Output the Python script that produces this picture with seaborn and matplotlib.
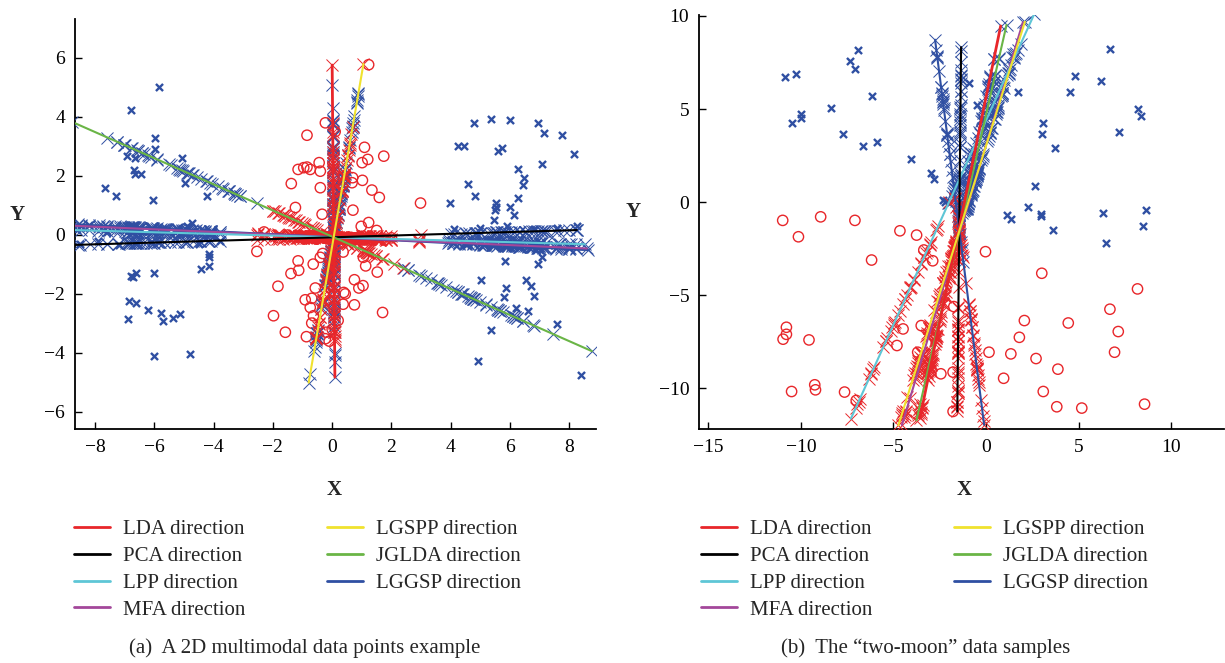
import numpy as np
import seaborn as sns
import matplotlib.pyplot as plt
from matplotlib.lines import Line2D

# ---- colours / methods ----
RED = "#e8262a"
BLUE = "#2f4fa2"
METHODS = ["LDA", "PCA", "LPP", "MFA", "LGSPP", "JGLDA", "LGGSP"]
COLORS = {"LDA": RED, "PCA": "#000000", "LPP": "#5ec6d6", "MFA": "#a3479a",
          "LGSPP": "#f0e22e", "JGLDA": "#6ab546", "LGGSP": BLUE}
DRAW_ORDER = ["LGGSP", "MFA", "LPP", "PCA", "JGLDA", "LDA", "LGSPP"]

# ---- (a) 2D multimodal data ----
a_blue_x = [-5.84, -6.79, -5.97, -5.99, -6.93, -6.65, -6.70, -6.65, -6.44, -5.07,
            -4.98, -7.66, -7.29, -6.06, -4.24, -4.73, -4.17, -4.14, -4.17, -4.43,
            -6.78, -6.62, -6.73, -6.00, -6.84, -6.62, -6.20, -6.88, -5.77, -5.72,
            -5.38, -5.14, -6.00, -4.80,
            -8.60, -8.50, -8.20, -7.90, -7.60, -7.20, -6.90, -6.50, -6.10, -5.70,
            -5.30, -4.90, -4.50, -4.10, -3.80, -9.80, -9.40,
            4.78, 5.36, 6.01, 6.96, 7.15, 7.74, 4.25, 4.44, 5.60, 5.74,
            8.15, 7.07, 6.28, 6.47, 6.45, 4.57, 4.83, 6.28, 3.99, 5.51,
            5.53, 5.49, 6.01, 6.12, 5.46, 5.82, 7.08, 6.96, 5.02, 6.55,
            6.71, 5.86, 5.79, 6.82, 6.21, 6.60, 7.60, 5.36, 4.93,
            4.10, 4.50, 5.00, 5.40, 5.90, 6.30, 6.80, 7.20, 7.60, 8.00, 8.25, 8.40]
a_blue_y = [5.03, 4.25, 3.29, 2.90, 2.67, 2.61, 2.19, 2.08, 2.08, 2.61,
            1.77, 1.60, 1.31, 1.17, 1.32, 0.42, -0.65, -0.74, -1.06, -1.16,
            -1.38, -1.30, -1.42, -1.30, -2.25, -2.32, -2.54, -2.86, -2.66, -2.93,
            -2.81, -2.68, -4.12, -4.03,
            0.15, -0.30, 0.35, -0.20, 0.10, -0.35, 0.30, 0.00, -0.25, 0.20,
            -0.10, 0.30, -0.30, 0.10, -0.20, 1.50, -0.80,
            3.80, 3.93, 3.91, 3.78, 3.44, 3.38, 3.01, 3.03, 2.86, 2.95,
            2.75, 2.39, 2.24, 1.94, 1.68, 1.74, 1.32, 1.24, 1.07, 1.07,
            0.96, 0.85, 0.93, 0.68, 0.50, -0.90, -0.76, -0.99, -1.52, -1.52,
            -1.72, -1.81, -2.12, -2.07, -2.48, -2.57, -3.02, -3.24, -4.26,
            0.20, -0.30, 0.25, -0.20, 0.30, -0.35, 0.20, -0.30, 0.25, -0.40, 0.30, -4.75]
a_red_x = [1.23, -0.23, -0.85, 1.09, 1.74, 1.01, 1.20, -0.44, -1.15, -0.96,
           -0.85, -0.74, -0.40, 0.69, 1.02, 0.67, -1.38, -0.40, 1.34, 1.59,
           -1.24, 0.70, -0.34, 2.98, 1.23, 0.98, -2.54, 0.37, -0.32, -1.15,
           -0.64, -0.40, 1.05, 1.13, -1.39, -1.13, 1.52, -1.83, 0.75, -0.57,
           0.90, 1.04, 0.39, 0.44, -0.91, -0.69, -0.74, 0.37, 0.75, -1.98,
           1.70, -1.58, -0.69, -0.87, -0.21, -0.23, -0.63,
           0.10, -0.10, 0.05, 0.20, 0.00, -2.30, 2.00, 1.50, -1.80, 0.15, -0.05]
a_red_y = [5.77, 3.80, 3.38, 2.97, 2.67, 2.45, 2.56, 2.45, 2.22, 2.28,
           2.30, 2.22, 2.16, 1.94, 1.85, 1.77, 1.74, 1.60, 1.52, 1.27,
           0.93, 0.84, 0.70, 1.08, 0.42, 0.29, -0.56, -0.58, -0.63, -0.88,
           -0.99, -0.76, -0.76, -1.05, -1.31, -1.20, -1.26, -1.74, -1.52, -1.80,
           -1.80, -1.72, -1.95, -2.00, -2.20, -2.15, -2.46, -2.35, -2.37, -2.74,
           -2.63, -3.30, -2.99, -3.45, -3.30, -3.52, -2.74,
           3.50, -3.60, 2.80, -2.90, -3.20, 0.10, -0.10, 0.15, -0.10, 1.20, -1.00]
a_angles = [90.5, 1.7, -1.6, -2.55, 80.3, -23.9, -2.9]
a_anchors = [(0.05, -0.08)] * 7

# ---- (b) two-moon data ----
b_blue_x = [-10.85, -10.26, -10.46, -9.97, -9.97, -8.36, -7.75, -7.33, -7.08, -6.92,
            -6.65, -6.16, -5.88, -4.06, -2.99, -2.82, -2.32, -2.19, -0.90, -0.49,
            6.70, 4.78, 6.22, 4.51, 1.73, 8.23, 8.37, 3.07, 3.00, 7.17,
            3.74, 2.64, 2.26, 1.13, 1.35, 2.95, 2.95, 3.61, 6.31, 8.63, 8.50, 6.49]
b_blue_y = [6.72, 6.86, 4.25, 4.72, 4.54, 5.06, 3.65, 7.60, 7.15, 8.19,
            3.00, 5.70, 3.23, 2.29, 1.57, 1.22, 0.10, 0.00, 6.40, 5.20,
            8.24, 6.76, 6.50, 5.90, 5.92, 4.99, 4.63, 4.27, 3.68, 3.75,
            2.91, 0.87, -0.25, -0.70, -0.93, -0.66, -0.76, -1.50, -0.57, -0.43, -1.29, -2.20]
b_red_x = [-10.98, -8.93, -7.08, -10.13, -6.18, -10.78, -10.78, -10.96, -9.56, -10.50,
           -9.25, -9.21, -7.64, -7.01, -4.65, -3.75, -3.36, -2.88, -0.03, 3.01,
           8.18, 6.69, 7.14, 6.94, 4.44, 2.07, 1.80, 1.34, 0.16, 2.70,
           3.88, 0.95, 3.09, 3.82, 5.17, 8.56, -3.50, -4.48, -4.81, -3.69,
           -2.44, -1.78, -1.78, -1.74]
b_red_y = [-0.98, -0.79, -0.98, -1.86, -3.11, -6.72, -7.10, -7.36, -7.40, -10.17,
           -9.81, -10.08, -10.20, -10.65, -1.54, -1.77, -2.57, -3.15, -2.66, -3.82,
           -4.66, -5.75, -6.95, -8.06, -6.49, -6.36, -7.26, -8.15, -8.06, -8.40,
           -8.97, -9.46, -10.17, -10.99, -11.06, -10.85, -6.63, -6.81, -7.70, -8.06,
           -9.22, -9.13, -11.24, -5.61]
b_angles = [78.3, 89.4, 65.5, 73.2, 72.5, 77.1, 97.3]
b_anchors = [(-1.50, -1.60), (-1.45, -1.60), (-2.00, 0.00), (-1.41, -1.60),
             (-1.46, -1.60), (-1.44, -1.60), (-1.43, -1.60)]


def project(xs, ys, anchor, angle):
    d = np.array([np.cos(np.radians(angle)), np.sin(np.radians(angle))])
    pts = np.column_stack([xs, ys]) - np.array(anchor)
    t = pts @ d
    return anchor[0] + t * d[0], anchor[1] + t * d[1], t


def draw_panel(ax, bx, by, rx, ry, angles, anchors):
    sns.scatterplot(x=bx, y=by, marker="x", color=BLUE, s=26, linewidth=1.7, ax=ax, zorder=2)
    sns.scatterplot(x=rx, y=ry, marker="o", color=RED, facecolor="none", edgecolor=RED,
                    s=55, linewidth=1.0, ax=ax, zorder=2)
    lines = {}
    for m, ang, anc in zip(METHODS, angles, anchors):
        pbx, pby, tb = project(bx, by, anc, ang)
        prx, pry, tr = project(rx, ry, anc, ang)
        sns.scatterplot(x=pbx, y=pby, marker="x", color=BLUE, s=75, linewidth=0.7, ax=ax, zorder=3)
        sns.scatterplot(x=prx, y=pry, marker="x", color=RED, s=75, linewidth=0.7, ax=ax, zorder=4)
        t = np.concatenate([tb, tr])
        d = np.array([np.cos(np.radians(ang)), np.sin(np.radians(ang))])
        ends = [t.min(), t.max()]
        lines[m] = ([anc[0] + e * d[0] for e in ends], [anc[1] + e * d[1] for e in ends])
    for k, m in enumerate(DRAW_ORDER):
        lx, ly = lines[m]
        sns.lineplot(x=lx, y=ly, sort=False, estimator=None, color=COLORS[m],
                     lw=2.0 if m == "LDA" else 1.5, ax=ax, zorder=5 + k)


sns.set_theme(style="ticks")
plt.rcParams["font.family"] = ["Liberation Serif", "DejaVu Serif"]

fig = plt.figure(figsize=(12.25, 6.63), dpi=100)
W, H = 1225, 663
ax1 = fig.add_axes([74.6 / W, 1 - 429 / H, (596 - 74.6) / W, (429 - 19) / H])
ax2 = fig.add_axes([699 / W, 1 - 429.3 / H, (1224 - 699) / W, (429.3 - 15) / H])

draw_panel(ax1, a_blue_x, a_blue_y, a_red_x, a_red_y, a_angles, a_anchors)
draw_panel(ax2, b_blue_x, b_blue_y, b_red_x, b_red_y, b_angles, b_anchors)

ax1.set_xlim(-8.69, 8.9)
ax1.set_ylim(-6.58, 7.32)
ax1.set_xticks(range(-8, 9, 2))
ax1.set_yticks(range(-6, 7, 2))
ax2.set_xlim(-15.5, 12.85)
ax2.set_ylim(-12.2, 10.05)
ax2.set_xticks(range(-15, 11, 5))
ax2.set_yticks(range(-10, 11, 5))

handles = [Line2D([], [], color=COLORS[m], lw=2) for m in METHODS]
labels = [m + " direction" for m in METHODS]

for ax, lx in [(ax1, 74 / W), (ax2, 701 / W)]:
    sns.despine(ax=ax)
    for s in ["left", "bottom"]:
        ax.spines[s].set_linewidth(1.3)
        ax.spines[s].set_color("black")
    ax.tick_params(direction="in", length=5, width=1.0, labelsize=14, pad=7, colors="black")
    ax.set_xlabel("X", fontsize=15, fontweight="bold")
    ax.set_ylabel("Y", fontsize=15, fontweight="bold", rotation=0)
    ax.legend(handles, labels, loc="upper left", bbox_to_anchor=(lx, 1 - 519.5 / H),
              bbox_transform=fig.transFigure, ncol=2, frameon=False, fontsize=15,
              handlelength=1.75, handletextpad=0.6, columnspacing=3.9,
              labelspacing=0.35, borderpad=0, borderaxespad=0)

ax1.xaxis.set_label_coords(0.498, -0.124)
ax1.yaxis.set_label_coords(-0.11, 0.497)
ax2.xaxis.set_label_coords(0.506, -0.122)
ax2.yaxis.set_label_coords(-0.125, 0.5)

fig.text(305 / W, 1 - 648 / H, "(a)  A 2D multimodal data points example",
         ha="center", va="center", fontsize=15)
fig.text(926 / W, 1 - 648 / H, "(b)  The \u201ctwo-moon\u201d data samples",
         ha="center", va="center", fontsize=15)

fig.savefig("out.png", dpi=100)
